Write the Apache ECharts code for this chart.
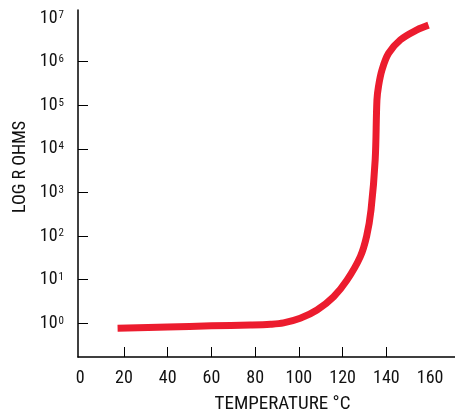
<!DOCTYPE html>
<html>
<head>
<meta charset="utf-8">
<script src="https://cdn.jsdelivr.net/npm/echarts@6/dist/echarts.min.js"></script>
<style>
html,body{margin:0;padding:0;background:#fff;}
#chart{width:455px;height:412px;}
</style>
</head>
<body>
<div id="chart"></div>
<script>
// Temperature (°C) and log10 of resistance (ohms)
var temps = [17.1, 40, 60, 77.8, 87.0, 93.0, 100.6, 108.3, 115.9, 122.0, 128.1, 131.0, 133.0, 134.9, 135.7, 136.4, 138.0, 141.0, 146.4, 154.0, 159.3];
var logR  = [-0.115, -0.085, -0.059, -0.04, -0.022, 0.01, 0.115, 0.305, 0.61, 0.99, 1.53, 2.0, 2.60, 3.75, 5.12, 5.43, 5.81, 6.19, 6.50, 6.73, 6.84];

var xTickLabels = [0, 20, 40, 60, 80, 100, 120, 140, 160];
var xTickMarks = [20, 40, 60, 80, 100, 120, 140];
var yExponents = [0, 1, 2, 3, 4, 5, 6, 7];
var yTickMarks = [0, 1, 2, 3, 4, 5, 6];

var xTitle = 'TEMPERATURE °C';
var yTitle = 'LOG R OHMS';

var FONT = '"Liberation Sans Narrow", "Arial Narrow", "Roboto Condensed", "Liberation Sans", sans-serif';

var data = temps.map(function (t, i) { return [t, logR[i]]; });

var chart = echarts.init(document.getElementById('chart'), null, {renderer: 'canvas'});
chart.setOption({
  animation: false,
  backgroundColor: '#fff',
  grid: {left: 78, right: 0, top: 10, bottom: 55, containLabel: false},
  xAxis: {
    type: 'value',
    min: -1,
    max: 171.4,
    axisLine: {show: true, onZero: false, lineStyle: {color: '#000', width: 1.5}},
    axisTick: {show: true, inside: true, length: 10, customValues: xTickMarks, lineStyle: {color: '#000', width: 1}},
    axisLabel: {customValues: xTickLabels, fontFamily: FONT, fontSize: 18, color: '#111', margin: 12},
    splitLine: {show: false}
  },
  yAxis: {
    type: 'value',
    min: -0.773,
    max: 7.186,
    axisLine: {show: true, onZero: false, lineStyle: {color: '#000', width: 1.5}},
    axisTick: {show: true, inside: true, length: 10, customValues: yTickMarks, lineStyle: {color: '#000', width: 1}},
    axisLabel: {
      customValues: yExponents,
      margin: 14,
      formatter: function (v) { return '{b|10}{s|' + Math.round(v) + '}'; },
      rich: {
        b: {fontFamily: FONT, fontSize: 18, color: '#111', lineHeight: 18},
        s: {fontFamily: FONT, fontSize: 11, color: '#111', lineHeight: 11, verticalAlign: 'top', padding: [1, 0, 0, 1]}
      }
    },
    splitLine: {show: false}
  },
  graphic: [
    {
      type: 'text',
      x: 282.5, y: 404,
      style: {text: xTitle, fontFamily: FONT, fontSize: 19, fill: '#111', textAlign: 'center', textVerticalAlign: 'middle'}
    },
    {
      type: 'text',
      x: 20, y: 167,
      rotation: Math.PI / 2,
      style: {text: yTitle, fontFamily: FONT, fontSize: 18, fill: '#111', textAlign: 'center', textVerticalAlign: 'middle'}
    }
  ],
  series: [{
    type: 'line',
    data: data,
    smooth: 0.35,
    showSymbol: false,
    symbol: 'none',
    lineStyle: {color: '#ec1c2e', width: 7, cap: 'butt', join: 'round'}
  }]
});
</script>
</body>
</html>
